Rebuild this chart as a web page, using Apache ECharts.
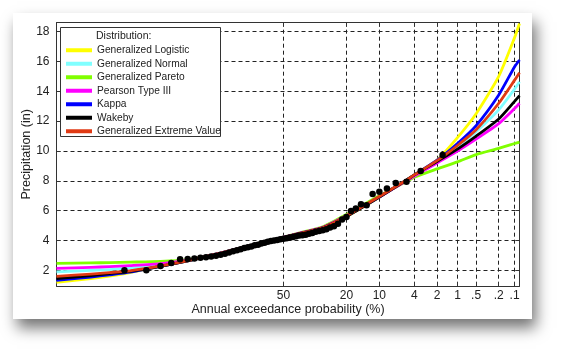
<!DOCTYPE html>
<html>
<head>
<meta charset="utf-8">
<script src="https://cdn.jsdelivr.net/npm/echarts@6/dist/echarts.min.js"></script>
<style>
    html, body { margin: 0; padding: 0; background: #fff; }
    #chart { width: 564px; height: 352px; }
</style>
</head>
<body>
<div id="chart"></div>
<script>
// exceedance probability (%) ticks on the normal probability axis
const probTicks = [50, 20, 10, 4, 2, 1, 0.5, 0.2, 0.1];
const probTickLabels = ['50', '20', '10', '4', '2', '1', '.5', '.2', '.1'];
const probRange = [99.88, 0.08];
const precipTicks = [2, 4, 6, 8, 10, 12, 14, 16, 18];

// fitted curves, read at these exceedance probabilities
const curveProbs = [99.88, 99.5, 99, 98, 95, 90, 80, 70, 60, 50, 40, 30, 20, 10, 5, 4, 2, 1, 0.5, 0.2, 0.1, 0.08];
const genLogistic = [1.2, 1.45, 1.62, 1.85, 2.27, 2.63, 3.12, 3.52, 3.88, 4.2, 4.5, 4.82, 5.6, 6.9, 8.05, 8.4, 9.4, 10.9, 12.5, 15.0, 17.6, 18.55];
const genNormal = [1.9, 2.0, 2.05, 2.15, 2.35, 2.67, 3.15, 3.55, 3.9, 4.22, 4.53, 4.87, 5.65, 6.92, 8.05, 8.38, 9.3, 10.3, 11.3, 12.76, 14.15, 14.64];
const genPareto = [2.47, 2.5, 2.52, 2.55, 2.6, 2.72, 3.12, 3.5, 3.88, 4.22, 4.56, 4.92, 5.75, 7.0, 7.95, 8.25, 8.8, 9.27, 9.76, 10.17, 10.5, 10.6];
const pearson3 = [2.13, 2.2, 2.25, 2.32, 2.45, 2.68, 3.15, 3.55, 3.9, 4.22, 4.54, 4.88, 5.68, 6.92, 8.0, 8.32, 9.2, 10.0, 10.8, 11.83, 12.85, 13.2];
const kappa = [1.33, 1.55, 1.7, 1.88, 2.27, 2.63, 3.13, 3.53, 3.88, 4.2, 4.52, 4.85, 5.62, 6.92, 8.05, 8.4, 9.38, 10.5, 11.7, 13.75, 15.65, 16.1];
const wakeby = [1.45, 1.65, 1.78, 1.93, 2.27, 2.63, 3.14, 3.54, 3.89, 4.2, 4.52, 4.85, 5.62, 6.92, 8.05, 8.4, 9.3, 10.13, 11.0, 12.15, 13.33, 13.7];
const genExtreme = [1.6, 1.75, 1.85, 1.97, 2.3, 2.65, 3.15, 3.55, 3.9, 4.2, 4.52, 4.85, 5.65, 6.95, 8.05, 8.4, 9.35, 10.37, 11.43, 13.2, 14.75, 15.25];

// observed annual maxima (plotting position %, inches)
const obsProb = [1.67, 3.33, 5, 6.67, 8.33, 10, 11.67, 13.33, 15, 16.67, 18.33, 20, 21.67, 23.33, 25, 26.67, 28.33, 30, 31.67, 33.33,
    35, 36.67, 38.33, 40, 41.67, 43.33, 45, 46.67, 48.33, 50, 51.67, 53.33, 55, 56.67, 58.33, 60, 61.67, 63.33, 65, 66.67,
    68.33, 70, 71.67, 73.33, 75, 76.67, 78.33, 80, 81.67, 83.33, 85, 86.67, 88.33, 90, 91.67, 93.33, 95, 96.67, 98.33];
const obsPrecip = [9.73, 8.66, 7.93, 7.86, 7.48, 7.26, 7.12, 6.36, 6.43, 6.14, 5.98, 5.58, 5.4, 5.13, 4.95, 4.87, 4.75, 4.68, 4.63, 4.58,
    4.5, 4.45, 4.39, 4.36, 4.33, 4.28, 4.24, 4.2, 4.15, 4.12, 4.08, 4.03, 4.0, 3.97, 3.92, 3.85, 3.8, 3.72, 3.68, 3.6,
    3.55, 3.5, 3.42, 3.35, 3.28, 3.2, 3.12, 3.05, 2.98, 2.92, 2.88, 2.84, 2.8, 2.76, 2.74, 2.49, 2.29, 2.0, 2.0];

// inverse normal cdf (Acklam), used as the axis transform
function probit(p) {
    const a = [-3.969683028665376e+01, 2.209460984245205e+02, -2.759285104469687e+02, 1.383577518672690e+02, -3.066479806614716e+01, 2.506628277459239e+00];
    const b = [-5.447609879822406e+01, 1.615858368580409e+02, -1.556989798598866e+02, 6.680131188771972e+01, -1.328068155288572e+01];
    const c = [-7.784894002430293e-03, -3.223964580411365e-01, -2.400758277161838e+00, -2.549671010115819e+00, 4.374664141464968e+00, 2.938163982698783e+00];
    const d = [7.784695709041462e-03, 3.224671290700398e-01, 2.445134137142996e+00, 3.754408661907416e+00];
    const plow = 0.02425;
    let q, r;
    if (p < plow) {
        q = Math.sqrt(-2 * Math.log(p));
        return (((((c[0] * q + c[1]) * q + c[2]) * q + c[3]) * q + c[4]) * q + c[5]) / ((((d[0] * q + d[1]) * q + d[2]) * q + d[3]) * q + 1);
    }
    if (p <= 1 - plow) {
        q = p - 0.5; r = q * q;
        return (((((a[0] * r + a[1]) * r + a[2]) * r + a[3]) * r + a[4]) * r + a[5]) * q / (((((b[0] * r + b[1]) * r + b[2]) * r + b[3]) * r + b[4]) * r + 1);
    }
    q = Math.sqrt(-2 * Math.log(1 - p));
    return -(((((c[0] * q + c[1]) * q + c[2]) * q + c[3]) * q + c[4]) * q + c[5]) / ((((d[0] * q + d[1]) * q + d[2]) * q + d[3]) * q + 1);
}
const toZ = (pct) => probit(1 - pct / 100);

const tickZ = probTicks.map(toZ);
const pair = (probs, vals) => probs.map((p, i) => [toZ(p), vals[i]]);

const font = 'Liberation Sans, Arial, sans-serif';
const curves = [
    { name: 'Generalized Logistic', color: '#ffff00', data: genLogistic },
    { name: 'Generalized Normal', color: '#80ffff', data: genNormal },
    { name: 'Generalized Pareto', color: '#80ff00', data: genPareto },
    { name: 'Pearson Type III', color: '#ff00ff', data: pearson3 },
    { name: 'Kappa', color: '#0000ff', data: kappa },
    { name: 'Wakeby', color: '#000000', data: wakeby },
    { name: 'Generalized Extreme Value', color: '#e03a14', data: genExtreme }
];

const chart = echarts.init(document.getElementById('chart'), null, { renderer: 'canvas' });

const zMin = toZ(probRange[0]);
const zMax = toZ(probRange[1]);

const baseX = {
    type: 'value', min: zMin, max: zMax,
    axisLine: { onZero: false, lineStyle: { color: '#333', width: 1 } },
    axisTick: { inside: true, length: 4, customValues: tickZ, lineStyle: { color: '#333' } }
};
const baseY = {
    type: 'value', min: 0.95, max: 18.6,
    axisLine: { show: true, onZero: false, lineStyle: { color: '#333', width: 1 } },
    axisTick: { show: true, inside: true, length: 4, customValues: precipTicks, lineStyle: { color: '#333' } }
};
const dash = { color: '#222', width: 1, type: [4, 3] };

chart.setOption({
    animation: false,
    textStyle: { fontFamily: font },
    grid: { left: 56.5, right: 44.5, top: 22.7, bottom: 66 },
    graphic: [
        {
            type: 'rect', z: -10,
            shape: { x: 13, y: 13, width: 519, height: 306 },
            style: { fill: '#fff', shadowBlur: 14, shadowOffsetX: 4, shadowOffsetY: 9, shadowColor: 'rgba(0,0,0,0.55)' }
        },
        {
            type: 'rect', z: 10,
            shape: { x: 60.5, y: 27.5, width: 160, height: 109 },
            style: { fill: '#fff', stroke: '#333', lineWidth: 1 }
        },
        {
            type: 'text', z: 12, left: 96, top: 30.5,
            style: { text: 'Distribution:', fill: '#222', font: '10.5px ' + font }
        }
    ],
    legend: {
        z: 11,
        orient: 'vertical', left: 61, top: 38.5,
        itemWidth: 26, itemHeight: 4, itemGap: 0,
        icon: 'rect',
        textStyle: { fontSize: 10.2, color: '#222', lineHeight: 13.5 },
        data: curves.map(c => c.name)
    },
    xAxis: [
        Object.assign({}, baseX, {
            position: 'bottom',
            name: 'Annual exceedance probability (%)',
            nameLocation: 'middle', nameGap: 17, nameMoveOverlap: false,
            nameTextStyle: { fontSize: 12.5, color: '#222' },
            axisLabel: {
                customValues: tickZ, margin: 4, fontSize: 12, color: '#222',
                formatter: (v) => {
                    const i = tickZ.findIndex(t => Math.abs(t - v) < 1e-6);
                    return i >= 0 ? probTickLabels[i] : '';
                }
            },
            splitLine: { show: true, lineStyle: dash }
        }),
        Object.assign({}, baseX, {
            position: 'top',
            axisLabel: { show: false },
            splitLine: { show: false }
        })
    ],
    yAxis: [
        Object.assign({}, baseY, {
            position: 'left',
            name: 'Precipitation (in)',
            nameLocation: 'middle', nameGap: 23, nameMoveOverlap: false,
            nameTextStyle: { fontSize: 12.5, color: '#222' },
            axisLabel: { customValues: precipTicks, margin: 7, fontSize: 12, color: '#222' },
            splitLine: { show: true, lineStyle: dash }
        }),
        Object.assign({}, baseY, {
            position: 'right',
            axisLabel: { show: false },
            splitLine: { show: false }
        })
    ],
    series: curves.map(c => ({
        name: c.name,
        type: 'line',
        data: pair(curveProbs, c.data),
        smooth: 0.2,
        showSymbol: false,
        color: c.color,
        lineStyle: { width: 2.8, color: c.color, join: 'round' }
    })).concat([{
        name: 'Observed',
        type: 'scatter',
        data: pair(obsProb, obsPrecip),
        symbolSize: 6.5,
        itemStyle: { color: '#000', opacity: 1 },
        z: 5
    }])
});
</script>
</body>
</html>
